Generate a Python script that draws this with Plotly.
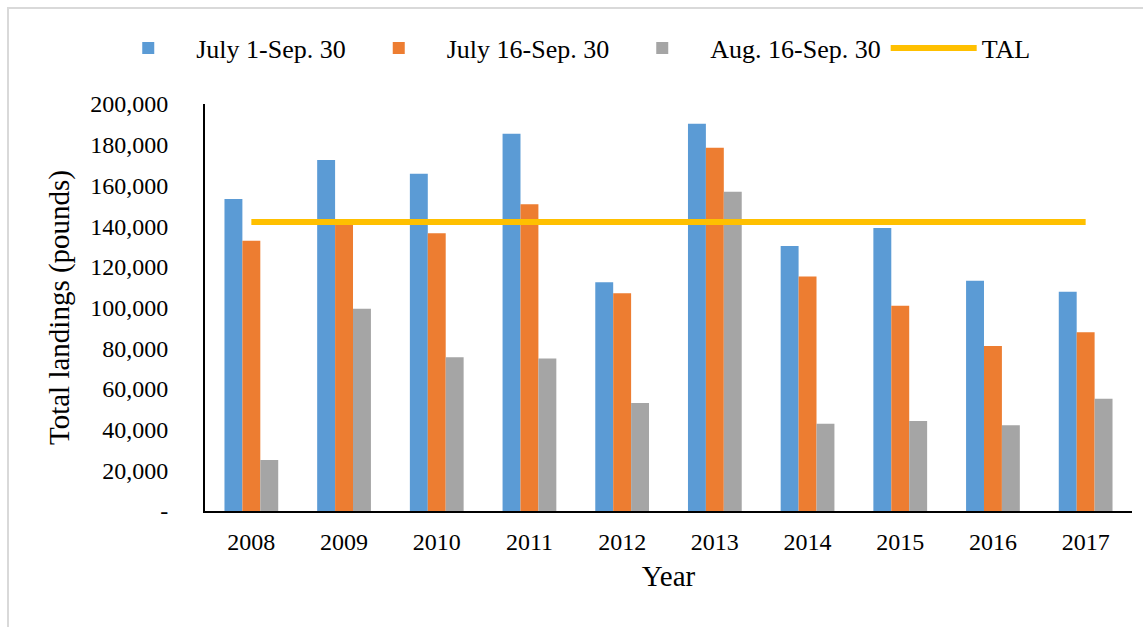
import plotly.graph_objects as go

years = ["2008", "2009", "2010", "2011", "2012", "2013", "2014", "2015", "2016", "2017"]
july1_sep30 = [153300, 172500, 165700, 185400, 112400, 190300, 130200, 139100, 113200, 107800]
july16_sep30 = [132800, 141000, 136500, 150700, 107000, 178500, 115200, 100900, 81100, 87800]
aug16_sep30 = [25100, 99400, 75500, 75000, 53100, 156900, 42900, 44200, 42100, 55200]
tal = [142000] * len(years)

y_ticks = [0, 20000, 40000, 60000, 80000, 100000, 120000, 140000, 160000, 180000, 200000]
y_tick_text = ["-"] + [f"{v:,}" for v in y_ticks[1:]]

FONT = "Liberation Serif, Times New Roman, serif"

fig = go.Figure()
fig.add_trace(go.Bar(name="July 1-Sep. 30", x=years, y=july1_sep30, marker_color="#5B9BD5",
                     marker_line_width=0))
fig.add_trace(go.Bar(name="July 16-Sep. 30", x=years, y=july16_sep30, marker_color="#ED7D31",
                     marker_line_width=0))
fig.add_trace(go.Bar(name="Aug. 16-Sep. 30", x=years, y=aug16_sep30, marker_color="#A5A5A5",
                     marker_line_width=0))
fig.add_trace(go.Scatter(name="TAL", x=years, y=tal, mode="lines",
                         line=dict(color="#FFC000", width=6)))

fig.update_layout(
    width=1143, height=627,
    margin=dict(l=205, r=11, t=104, b=116),
    paper_bgcolor="white", plot_bgcolor="white",
    barmode="group", bargap=0.42, bargroupgap=0,
    font=dict(family=FONT, size=24, color="black"),
    showlegend=True,
    legend=dict(orientation="h", x=-0.113, y=1.1376, xanchor="left", yanchor="middle",
                font=dict(family=FONT, size=26), itemwidth=86, traceorder="normal"),
    xaxis=dict(
        type="category", showline=True, linecolor="black", linewidth=2,
        showgrid=False, ticks="", tickfont=dict(size=24), ticklabelstandoff=8,
        title=dict(text="Year", font=dict(size=29), standoff=12),
    ),
    yaxis=dict(
        range=[0, 200000], tickvals=y_ticks, ticktext=y_tick_text,
        showline=True, linecolor="black", linewidth=2,
        showgrid=False, zeroline=False, ticks="", ticklabelstandoff=30,
        tickfont=dict(size=24),
        title=dict(text="Total landings (pounds)", font=dict(size=29), standoff=12),
    ),
    shapes=[
        dict(type="rect", xref="paper", yref="paper",
             x0=-0.2125, x1=1.05, y0=-0.4, y1=1.2359,
             line=dict(color="#D9D9D9", width=2), fillcolor="rgba(0,0,0,0)", layer="below"),
    ],
)

fig.write_html("out.html")
